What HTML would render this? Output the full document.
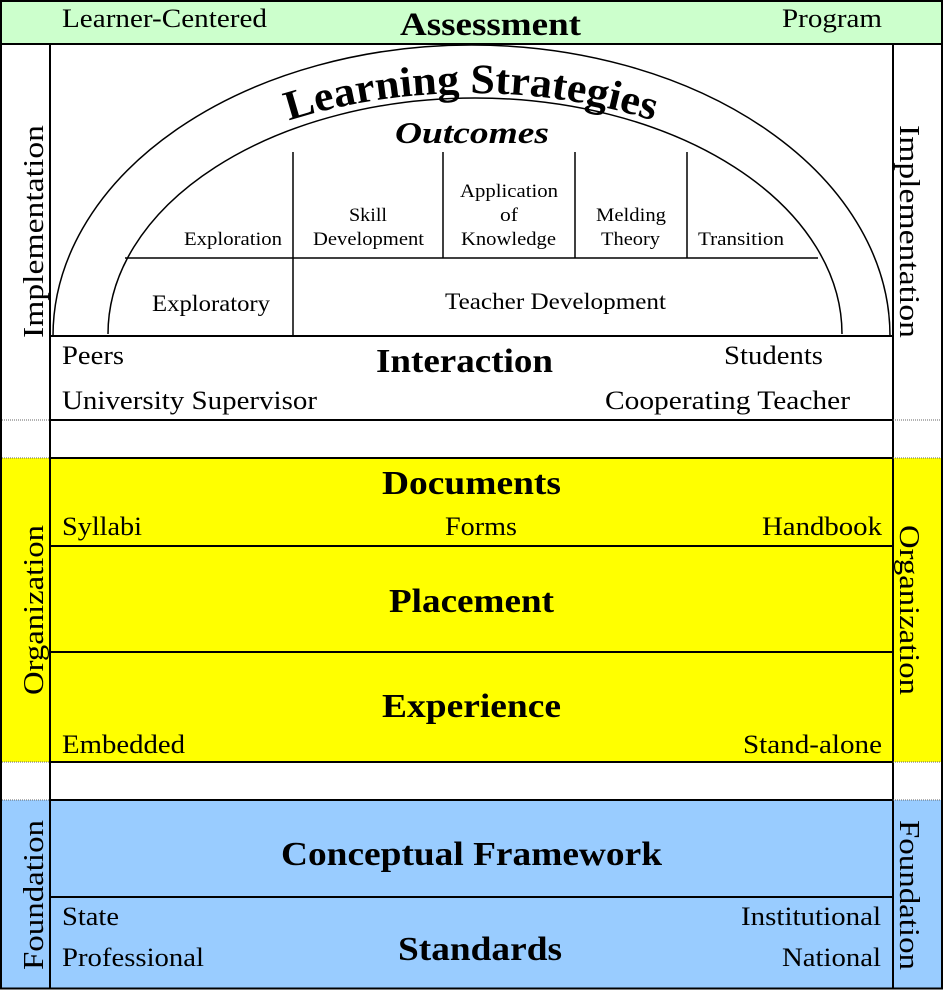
<!DOCTYPE html>
<html><head><style>body{margin:0;background:#fff}svg{display:block}text{font-family:"Liberation Serif",serif}</style></head><body>
<svg width="943" height="990" viewBox="0 0 943 990" xmlns="http://www.w3.org/2000/svg">
<rect x="0" y="0" width="943" height="990" fill="#fff"/>
<rect x="1" y="1" width="941" height="43" fill="#ccffcc" stroke="#000" stroke-width="2"/>
<rect x="0" y="458" width="943" height="304" fill="#ffff00"/>
<rect x="0" y="800" width="943" height="189" fill="#99ccff"/>
<g stroke="#000" stroke-width="2" fill="none">
<line x1="1" y1="44" x2="1" y2="989"/><line x1="942" y1="44" x2="942" y2="989"/>
<line x1="0" y1="988.5" x2="943" y2="988.5"/>
<line x1="50" y1="44" x2="50" y2="989"/><line x1="893" y1="44" x2="893" y2="989"/>
<line x1="50" y1="336" x2="893" y2="336"/>
<line x1="50" y1="420" x2="893" y2="420"/>
<line x1="50" y1="458" x2="893" y2="458"/>
<line x1="50" y1="546" x2="893" y2="546"/>
<line x1="50" y1="652" x2="893" y2="652"/>
<line x1="50" y1="762" x2="893" y2="762"/>
<line x1="50" y1="800" x2="893" y2="800"/>
<line x1="50" y1="897" x2="893" y2="897"/>
</g>
<g stroke="#666" stroke-width="1" stroke-dasharray="1,1">
<line x1="2" y1="420" x2="50" y2="420"/><line x1="893" y1="420" x2="941" y2="420"/>
<line x1="2" y1="458" x2="50" y2="458"/><line x1="893" y1="458" x2="941" y2="458"/>
<line x1="2" y1="762" x2="50" y2="762"/><line x1="893" y1="762" x2="941" y2="762"/>
<line x1="2" y1="800" x2="50" y2="800"/><line x1="893" y1="800" x2="941" y2="800"/>
</g>
<g stroke="#000" stroke-width="1.5" fill="none">
<path d="M53,336 A418.5,291 0 0 1 890,336"/>
<path d="M108,334 A367,236 0 0 1 842,334"/>
<line x1="125" y1="258" x2="818" y2="258"/>
<line x1="293" y1="152" x2="293" y2="336"/>
<line x1="443" y1="152" x2="443" y2="258"/>
<line x1="575" y1="152" x2="575" y2="258"/>
<line x1="687" y1="152" x2="687" y2="258"/>
</g>
<defs><path id="arc" d="M76,338 A395,245 0 0 1 866,338"/></defs>
<text font-size="42" font-weight="bold"><textPath href="#arc" startOffset="50%" text-anchor="middle" textLength="370" lengthAdjust="spacingAndGlyphs">Learning Strategies</textPath></text>
<g font-size="26" fill="#000" lengthAdjust="spacingAndGlyphs">
<text x="62" y="27" textLength="205" lengthAdjust="spacingAndGlyphs">Learner-Centered</text>
<text x="782" y="27" textLength="100" lengthAdjust="spacingAndGlyphs">Program</text>
<text x="62" y="364" textLength="62" lengthAdjust="spacingAndGlyphs">Peers</text>
<text x="62" y="409" textLength="255" lengthAdjust="spacingAndGlyphs">University Supervisor</text>
<text x="724" y="364" textLength="99" lengthAdjust="spacingAndGlyphs">Students</text>
<text x="605" y="409" textLength="245" lengthAdjust="spacingAndGlyphs">Cooperating Teacher</text>
<text x="62" y="535" textLength="80" lengthAdjust="spacingAndGlyphs">Syllabi</text>
<text x="445" y="535" textLength="72" lengthAdjust="spacingAndGlyphs">Forms</text>
<text x="762" y="535" textLength="120" lengthAdjust="spacingAndGlyphs">Handbook</text>
<text x="62" y="753" textLength="123" lengthAdjust="spacingAndGlyphs">Embedded</text>
<text x="743" y="753" textLength="139" lengthAdjust="spacingAndGlyphs">Stand-alone</text>
<text x="62" y="925" textLength="57" lengthAdjust="spacingAndGlyphs">State</text>
<text x="62" y="966" textLength="142" lengthAdjust="spacingAndGlyphs">Professional</text>
<text x="741" y="925" textLength="140" lengthAdjust="spacingAndGlyphs">Institutional</text>
<text x="782" y="966" textLength="99" lengthAdjust="spacingAndGlyphs">National</text>
</g>
<g font-size="34" font-weight="bold">
<text x="400" y="35" font-size="33" textLength="181" lengthAdjust="spacingAndGlyphs">Assessment</text>
<text x="376" y="372" textLength="177" lengthAdjust="spacingAndGlyphs">Interaction</text>
<text x="382" y="494" textLength="179" lengthAdjust="spacingAndGlyphs">Documents</text>
<text x="389" y="612" textLength="165" lengthAdjust="spacingAndGlyphs">Placement</text>
<text x="382" y="717" textLength="179" lengthAdjust="spacingAndGlyphs">Experience</text>
<text x="281" y="865" textLength="381" lengthAdjust="spacingAndGlyphs">Conceptual Framework</text>
<text x="398" y="960" textLength="164" lengthAdjust="spacingAndGlyphs">Standards</text>
<text x="395" y="143" font-style="italic" font-size="31" textLength="154" lengthAdjust="spacingAndGlyphs">Outcomes</text>
</g>
<g font-size="19">
<text x="184" y="245" textLength="98" lengthAdjust="spacingAndGlyphs">Exploration</text>
<text x="349" y="221" textLength="38" lengthAdjust="spacingAndGlyphs">Skill</text>
<text x="313" y="245" textLength="111" lengthAdjust="spacingAndGlyphs">Development</text>
<text x="460" y="197" textLength="98" lengthAdjust="spacingAndGlyphs">Application</text>
<text x="500" y="221" textLength="18" lengthAdjust="spacingAndGlyphs">of</text>
<text x="461" y="245" textLength="95" lengthAdjust="spacingAndGlyphs">Knowledge</text>
<text x="596" y="221" textLength="70" lengthAdjust="spacingAndGlyphs">Melding</text>
<text x="601" y="245" textLength="59" lengthAdjust="spacingAndGlyphs">Theory</text>
<text x="698" y="245" textLength="86" lengthAdjust="spacingAndGlyphs">Transition</text>
</g>
<g font-size="23">
<text x="152" y="311" textLength="118" lengthAdjust="spacingAndGlyphs">Exploratory</text>
<text x="445" y="309" textLength="221" lengthAdjust="spacingAndGlyphs">Teacher Development</text>
</g>
<g font-size="28">
<text transform="translate(43,338) rotate(-90)" textLength="213" lengthAdjust="spacingAndGlyphs">Implementation</text>
<text transform="translate(43,695) rotate(-90)" textLength="170" lengthAdjust="spacingAndGlyphs">Organization</text>
<text transform="translate(43,970) rotate(-90)" textLength="150" lengthAdjust="spacingAndGlyphs">Foundation</text>
<text transform="translate(900,125) rotate(90)" textLength="213" lengthAdjust="spacingAndGlyphs">Implementation</text>
<text transform="translate(900,525) rotate(90)" textLength="170" lengthAdjust="spacingAndGlyphs">Organization</text>
<text transform="translate(900,820) rotate(90)" textLength="150" lengthAdjust="spacingAndGlyphs">Foundation</text>
</g>
</svg>
</body></html>
